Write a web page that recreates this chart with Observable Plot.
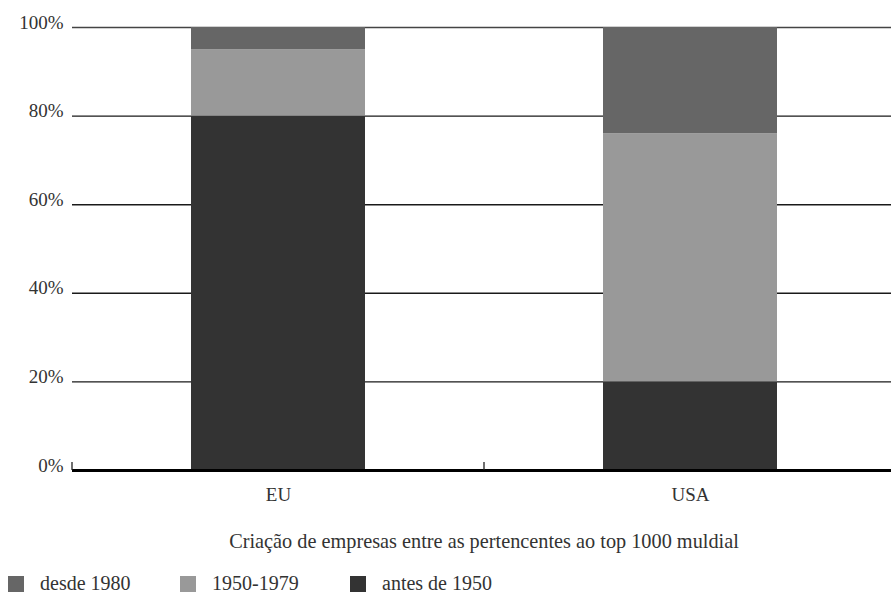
<!DOCTYPE html>
<html>
<head>
<meta charset="utf-8">
<script src="https://cdn.jsdelivr.net/npm/d3@7"></script>
<script src="https://cdn.jsdelivr.net/npm/@observablehq/plot@0.6"></script>
<style>
  html, body { margin: 0; padding: 0; background: #fff; }
  body { width: 891px; height: 595px; overflow: hidden; font-family: "Liberation Serif", serif; color: #333; position: relative; }
  #chart svg { display: block; overflow: visible; }
  .caption { position: absolute; left: 0; width: 968px; top: 530px; text-align: center; font-size: 20.3px; color: #333; }
  .legend { position: absolute; left: 0; top: 572px; width: 891px; height: 22px; font-size: 20px; color: #333; }
  .legend .item { position: absolute; top: 0; display: flex; align-items: center; white-space: nowrap; }
  .legend .swatch { width: 16px; height: 16px; margin-right: 16px; }
</style>
</head>
<body>
<div id="chart"></div>
<div class="caption">Criação de empresas entre as pertencentes ao top 1000 muldial</div>
<div class="legend" id="legend"></div>
<script>
// Share of top-1000 companies by founding period
const categories = ["EU", "USA"];
const periods = ["antes de 1950", "1950-1979", "desde 1980"];
const antes1950 = [80, 20];
const from1950to1979 = [15, 56];
const since1980 = [5, 24];
const yTicks = [0, 20, 40, 60, 80, 100];
const periodColors = ["#333333", "#999999", "#666666"];
const legendOrder = ["desde 1980", "1950-1979", "antes de 1950"];

const seriesByPeriod = [antes1950, from1950to1979, since1980];
const data = categories.flatMap((cat, i) =>
  periods.map((period, k) => ({cat, period, value: seriesByPeriod[k][i]}))
);

const width = 891, height = 510;
const marginLeft = 72, marginTop = 27, marginBottom = 40;
const xRange = [marginLeft, 896];
const padInner = 0.578, padOuter = 0.289;

// boundaries between categories, for the small upward ticks on the baseline
const xBand = d3.scaleBand(categories, xRange).paddingInner(padInner).paddingOuter(padOuter);
const boundaries = categories.map(c => xBand(c) - xBand.step() * padInner / 2);

const chart = Plot.plot({
  width, height,
  marginLeft, marginTop, marginBottom, marginRight: 0,
  style: {fontFamily: "Liberation Serif, serif", fontSize: "19px", color: "#333", background: "transparent"},
  x: {domain: categories, range: xRange, paddingInner: padInner, paddingOuter: padOuter},
  y: {domain: [0, 100]},
  color: {domain: periods, range: periodColors},
  marks: [
    Plot.ruleY(yTicks.filter(d => d > 0 && d < 100), {stroke: "#1a1a1a", strokeWidth: 1.4}),
    Plot.ruleY([100], {stroke: "#444", strokeWidth: 1.6}),
    Plot.barY(data, {x: "cat", y: "value", fill: "period"}),
    Plot.ruleY([0], {stroke: "#000", strokeWidth: 3}),
    (index, scales, values, dims) => {
      const g = d3.create("svg:g");
      const y0 = dims.height - dims.marginBottom;
      for (const bx of boundaries) {
        g.append("line")
          .attr("x1", bx).attr("x2", bx)
          .attr("y1", y0 - 8).attr("y2", y0)
          .attr("stroke", "#222").attr("stroke-width", 1.3);
      }
      return g.node();
    },
    Plot.axisY({ticks: yTicks, tickFormat: d => d + "%", tickSize: 0, tickPadding: 9, dy: -5, label: null, fontSize: 19, fill: "#333"}),
    Plot.axisX({tickSize: 0, tickPadding: 17, label: null, fontSize: 19, fill: "#333"})
  ]
});
document.getElementById("chart").appendChild(chart);

// legend
const legend = d3.select("#legend");
const legendLeft = [8, 180, 350];
legendOrder.forEach((p, i) => {
  const item = legend.append("div").attr("class", "item").style("left", legendLeft[i] + "px");
  item.append("div").attr("class", "swatch").style("background", periodColors[periods.indexOf(p)]);
  item.append("span").text(p);
});
</script>
</body>
</html>
